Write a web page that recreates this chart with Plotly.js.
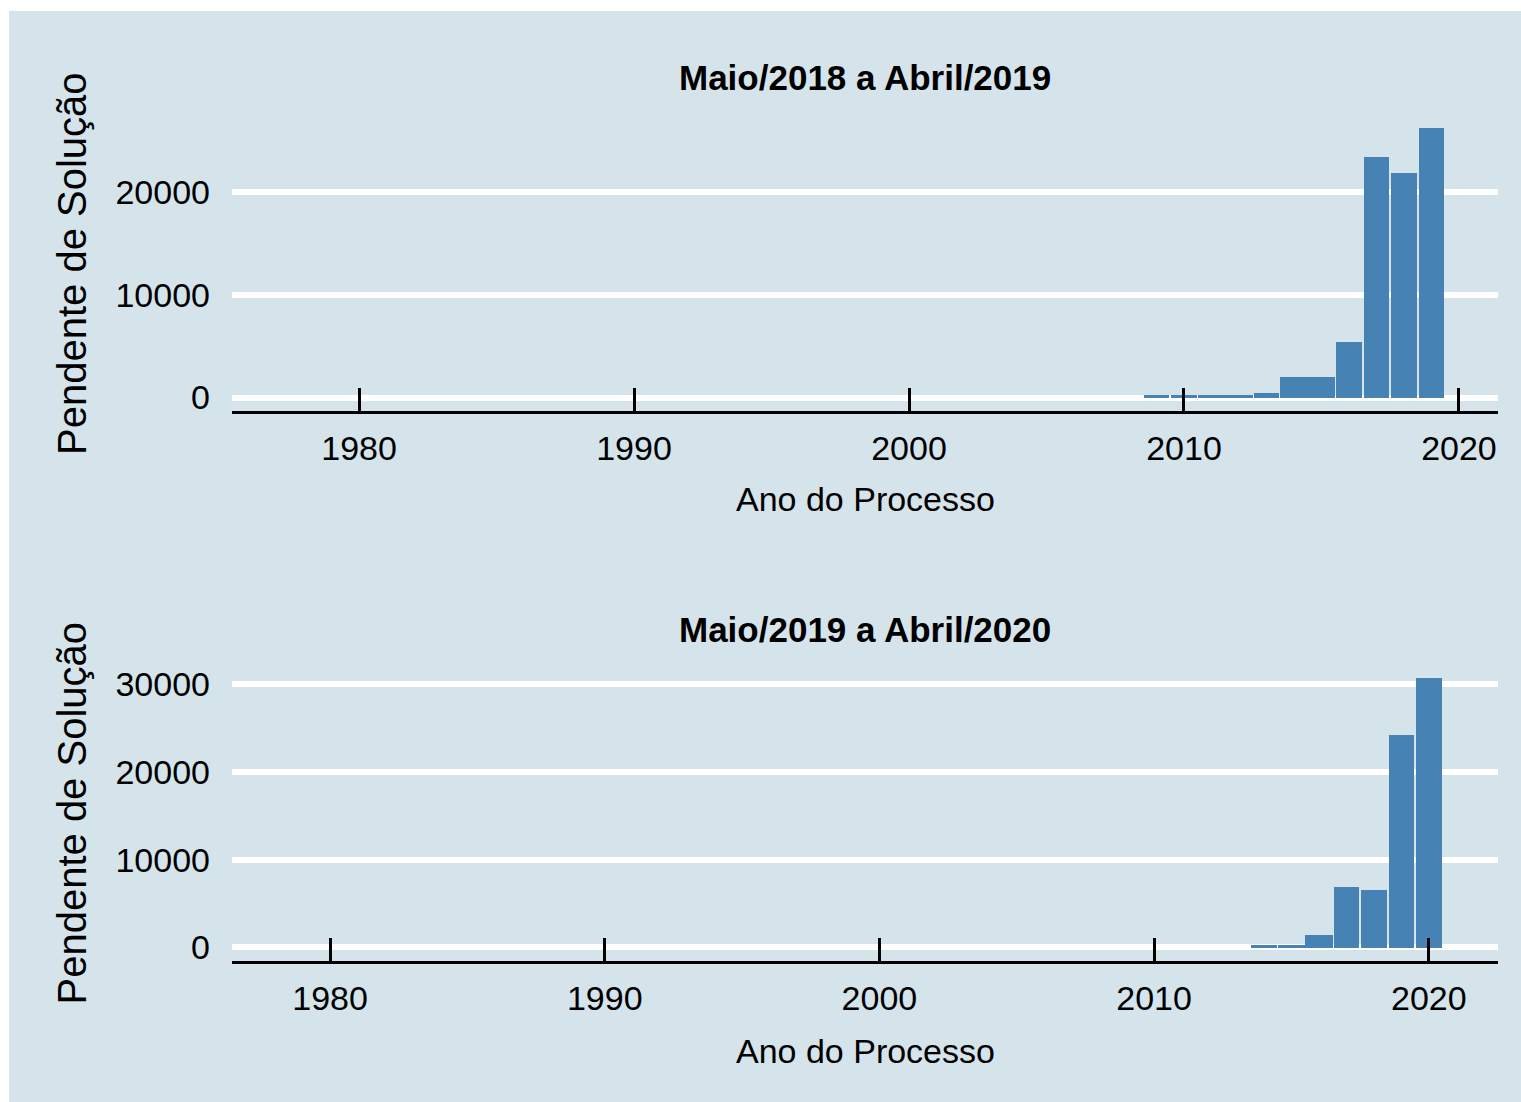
<!DOCTYPE html>
<html>
<head>
<meta charset="utf-8">
<script src="https://cdn.plot.ly/plotly-3.0.1.min.js"></script>
<style>
  html, body { margin: 0; padding: 0; background: #ffffff; }
  #chart { position: absolute; left: 9px; top: 11px; width: 1512px; height: 1091px; }
</style>
</head>
<body>
<div id="chart"></div>
<script>
// ---- data ----
const titles = ["Maio/2018 a Abril/2019", "Maio/2019 a Abril/2020"];
const xTitle = "Ano do Processo";
const yTitle = "Pendente de Solução";

const years1 = [2009, 2010, 2011, 2012, 2013, 2014, 2015, 2016, 2017, 2018, 2019];
const values1 = [250, 250, 250, 250, 490, 2040, 2040, 5450, 23350, 21790, 26170];

const years2 = [2014, 2015, 2016, 2017, 2018, 2019, 2020];
const values2 = [340, 340, 1480, 6830, 6490, 24230, 30720];

const xTicks = [1980, 1990, 2000, 2010, 2020];

// ---- style ----
const BG = "#d5e4eb";
const BAR = "#4682b4";
const FONT = "Liberation Sans, Arial, sans-serif";
const joined1 = [2011, 2012, 2014, 2015];
const joined2 = [2015, 2016];
const w1 = years1.map(y => joined1.includes(y) ? 1.0 : 0.93);
const w2 = years2.map(y => joined2.includes(y) ? 1.0 : 0.93);

const traces = [
  { type: "bar", x: years1, y: values1, width: w1, marker: { color: BAR }, xaxis: "x", yaxis: "y", hoverinfo: "x+y" },
  { type: "bar", x: years2, y: values2, width: w2, marker: { color: BAR }, xaxis: "x2", yaxis: "y2", hoverinfo: "x+y" }
];

function xAxis(range, domainAnchor) {
  return {
    range: range, anchor: domainAnchor, domain: [0, 1],
    tickvals: xTicks, ticktext: xTicks.map(String),
    showgrid: false, zeroline: false,
    showline: true, linecolor: "#000", linewidth: 3,
    ticks: "inside", ticklen: 23, tickwidth: 3, tickcolor: "#000",
    ticklabelstandoff: 5,
    tickfont: { family: FONT, size: 34, color: "#000" }
  };
}
function yAxis(range, domain, anchor) {
  const mx = range[1];
  const tv = [];
  for (let v = 0; v <= mx; v += 10000) tv.push(v);
  return {
    range: range, domain: domain, anchor: anchor,
    tickvals: tv, ticktext: tv.map(String),
    showgrid: true, gridcolor: "#ffffff", gridwidth: 6,
    zeroline: true, zerolinecolor: "#ffffff", zerolinewidth: 6,
    showline: false, ticks: "",
    ticklabelstandoff: 21,
    tickfont: { family: FONT, size: 34, color: "#000" }
  };
}

const max1 = Math.max(...values1), max2 = Math.max(...values2);

const layout = {
  width: 1512, height: 1091,
  paper_bgcolor: BG, plot_bgcolor: BG,
  margin: { l: 223, r: 23, t: 104, b: 141 },
  showlegend: false,
  bargap: 0,
  xaxis: xAxis([1975.38, 2021.42], "y"),
  yaxis: yAxis([-0.05 * max1, 1.05 * max1], [0.6501, 1], "x"),
  xaxis2: xAxis([1976.43, 2022.52], "y2"),
  yaxis2: yAxis([-0.05 * max2, 1.05 * max2], [0, 0.3511], "x2"),
  annotations: [
    { text: "<b>" + titles[0] + "</b>", xref: "paper", yref: "paper", x: 0.5, y: 1.0449, xanchor: "center", yanchor: "middle", showarrow: false, font: { family: FONT, size: 35, color: "#000" } },
    { text: "<b>" + titles[1] + "</b>", xref: "paper", yref: "paper", x: 0.5, y: 0.3924, xanchor: "center", yanchor: "middle", showarrow: false, font: { family: FONT, size: 35, color: "#000" } },
    { text: xTitle, xref: "paper", yref: "paper", x: 0.5, y: 0.5461, xanchor: "center", yanchor: "middle", showarrow: false, font: { family: FONT, size: 34, color: "#000" } },
    { text: xTitle, xref: "paper", yref: "paper", x: 0.5, y: -0.1064, xanchor: "center", yanchor: "middle", showarrow: false, font: { family: FONT, size: 34, color: "#000" } },
    { text: yTitle, xref: "paper", yref: "paper", x: -0.1264, y: 0.8251, xanchor: "center", yanchor: "middle", textangle: -90, showarrow: false, font: { family: FONT, size: 40, color: "#000" } },
    { text: yTitle, xref: "paper", yref: "paper", x: -0.1264, y: 0.1755, xanchor: "center", yanchor: "middle", textangle: -90, showarrow: false, font: { family: FONT, size: 40, color: "#000" } }
  ]
};

Plotly.newPlot("chart", traces, layout, { displayModeBar: false, responsive: false });
</script>
</body>
</html>
